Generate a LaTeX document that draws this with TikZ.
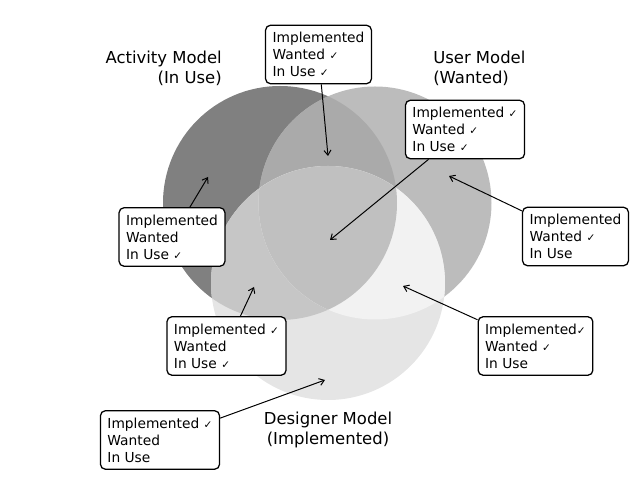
\documentclass[tikz,border=0pt]{standalone}
\usepackage{fontspec}
\setmainfont{DejaVu Sans}
\usetikzlibrary{arrows.meta}

\definecolor{actonly}{HTML}{808080}
\definecolor{useronly}{HTML}{BCBCBC}
\definecolor{desonly}{HTML}{E5E5E5}
\definecolor{actuser}{HTML}{AAAAAA}
\definecolor{actdes}{HTML}{C6C6C6}
\definecolor{userdes}{HTML}{F2F2F2}
\definecolor{allthree}{HTML}{C0C0C0}

\newcommand{\chk}{{\fontsize{7.5}{7.5}\selectfont ✓}}

\begin{document}
\begin{tikzpicture}[x=0.025cm,y=0.025cm,
    infobox/.style={draw=black,fill=white,line width=0.9pt,rounded corners=3.5pt,align=left,inner sep=5pt,font=\fontsize{9.8}{12}\selectfont},
    title/.style={font=\fontsize{11.7}{14.2}\selectfont,inner sep=0pt},
    pointer/.style={-{Straight Barb[length=3.5pt,width=5pt]},line width=0.7pt}]
    \useasboundingbox (0,0) rectangle (640,480);

    % The three models
    \def\actcirc{(280,277) circle (117)}
    \def\usercirc{(375,277) circle (116.5)}
    \def\descirc{(328,197) circle (117)}
    \fill[actonly] \actcirc;
    \fill[useronly] \usercirc;
    \fill[desonly] \descirc;
    % Overlaps
    \begin{scope}
      \clip \actcirc;
      \fill[actuser] \usercirc;
      \fill[actdes] \descirc;
    \end{scope}
    \begin{scope}
      \clip \usercirc;
      \fill[userdes] \descirc;
      \clip \actcirc;
      \fill[allthree] \descirc;
    \end{scope}

    % Titles
    \node[title,anchor=east,align=right] (acttitle) at (222,412) {Activity Model\\(In Use)};
    \node[title,anchor=west,align=left] (usertitle) at (433,412) {User Model\\(Wanted)};
    \node[title,align=center] (destitle) at (328,50) {Designer Model\\(Implemented)};

    % Boxes and where they point
    \foreach \n/\x/\y/\tx/\ty/\txt in {
      b1/318.5/425.5/328/324/{Implemented\\Wanted \chk\\In Use \chk},
      b2/465/350.5/330/240/{Implemented \chk\\Wanted \chk\\In Use \chk},
      b3/172/243/208/303/{Implemented\\Wanted\\In Use \chk},
      b4/575.5/243.5/449/304/{Implemented\\Wanted \chk\\In Use},
      b5/226.5/134/254/193/{Implemented \chk\\Wanted\\In Use \chk},
      b6/535.5/134/403/194/{Implemented\chk\\Wanted \chk\\In Use},
      b7/160/40/325/100/{Implemented \chk\\Wanted\\In Use}}{
      \coordinate (t\n) at (\tx,\ty);
      \node[infobox] (\n) at (\x,\y) {\txt};
      \draw[pointer] (\n) -- (t\n);
    }
\end{tikzpicture}
\end{document}
